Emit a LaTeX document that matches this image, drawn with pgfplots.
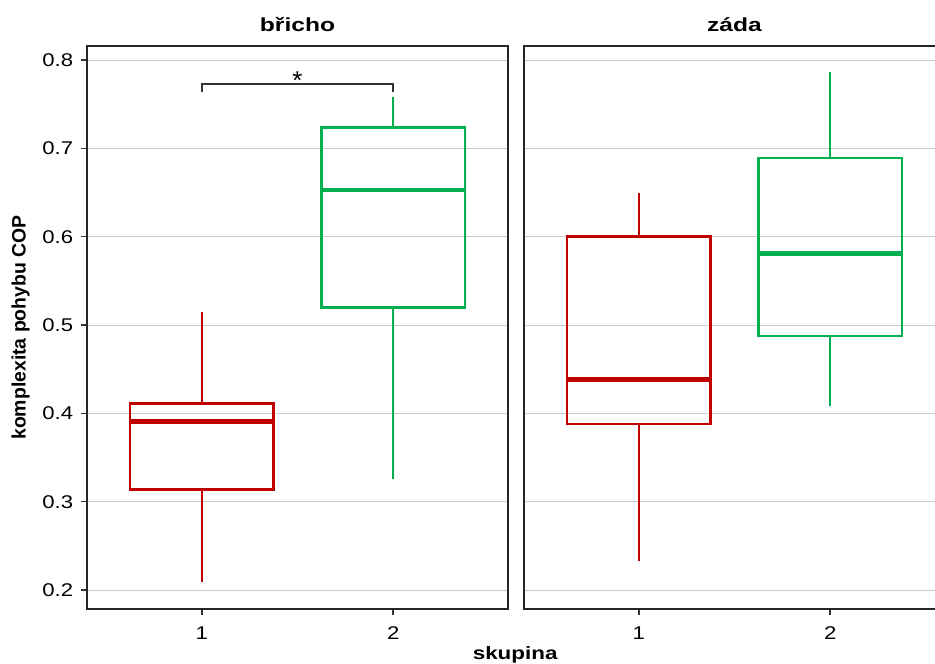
\documentclass[border=0pt]{standalone}
\usepackage{fontspec}
\setmainfont{Liberation Sans}
\usepackage{pgfplots}
\pgfplotsset{compat=1.18}
\usepgfplotslibrary{statistics}
\definecolor{cred}{HTML}{C00000}
\definecolor{cgreen}{HTML}{00B050}
\definecolor{cgrid}{HTML}{CCCCCC}
\begin{document}
\begin{tikzpicture}
\useasboundingbox (0bp,0bp) rectangle (935bp,664bp);
\clip (0bp,0bp) rectangle (935bp,664bp);
\pgfplotsset{
  panel/.style={
    scale only axis, width=421bp, height=563bp,
    anchor=south west,
    xmin=0.4, xmax=2.6, ymin=0.1785, ymax=0.816,
    xtick={1,2}, xticklabels={1,2}, ytick={0.2,0.3,0.4,0.5,0.6,0.7,0.8},
    ymajorgrids, grid style={cgrid, line width=0.8bp},
    axis line style={black!85, line width=1.4bp},
    tick style={black!80, line width=1.4bp},
    tick align=outside, major tick length=6bp,
    xtick pos=bottom, ytick pos=left,
    tick label style={font=\fontsize{18.5}{20}\selectfont, xscale=1.2},
    xticklabel style={yshift=-8bp},
    /pgf/number format/assume math mode=true,
    yticklabel style={xshift=-3bp, /pgf/number format/fixed, /pgf/number format/precision=1, /pgf/number format/fixed zerofill},
    title style={font=\bfseries\fontsize{19}{21}\selectfont, xscale=1.3, at={(0.5,1)}, anchor=south, yshift=5bp},
    boxplot/draw direction=y,
    boxplot/box extend=0.75, boxplot/whisker extend=0,
    clip=false,
  },
  bx/.style={draw=#1, line width=2.6bp, solid, mark=none, boxplot/every median/.style={line width=4.8bp}},
}
\begin{axis}[panel, at={(87bp,55bp)}, title={břicho},
  ylabel={komplexita pohybu COP},
  ylabel style={font=\bfseries\fontsize{19.5}{21}\selectfont, at={(axis description cs:-0.158,0.5)}, anchor=center},
  xlabel={skupina},
  xlabel style={font=\bfseries\fontsize{18}{20}\selectfont, xscale=1.25, at={(axis description cs:1.017,-0.082)}, anchor=center}]
\addplot[bx=cred, boxplot prepared={lower whisker=0.209, lower quartile=0.314, median=0.391, upper quartile=0.411, upper whisker=0.515, draw position=1}] coordinates {};
\addplot[bx=cgreen, boxplot prepared={lower whisker=0.326, lower quartile=0.520, median=0.653, upper quartile=0.724, upper whisker=0.758, draw position=2}] coordinates {};
\draw[black!80, line width=1.4bp] (axis cs:1,0.764) -- (axis cs:1,0.773) -- (axis cs:2,0.773) -- (axis cs:2,0.764);
\node[anchor=base, inner sep=0bp, yshift=-5.5bp, font=\fontsize{26}{28}\selectfont] at (axis cs:1.5,0.773) {*};
\end{axis}
\begin{axis}[panel, at={(524bp,55bp)}, title={záda}, yticklabels={}, ytick style={draw=none}]
\addplot[bx=cred, boxplot prepared={lower whisker=0.233, lower quartile=0.388, median=0.438, upper quartile=0.600, upper whisker=0.649, draw position=1}] coordinates {};
\addplot[bx=cgreen, boxplot prepared={lower whisker=0.408, lower quartile=0.4875, median=0.581, upper quartile=0.689, upper whisker=0.786, draw position=2}] coordinates {};
\end{axis}
\end{tikzpicture}
\end{document}
